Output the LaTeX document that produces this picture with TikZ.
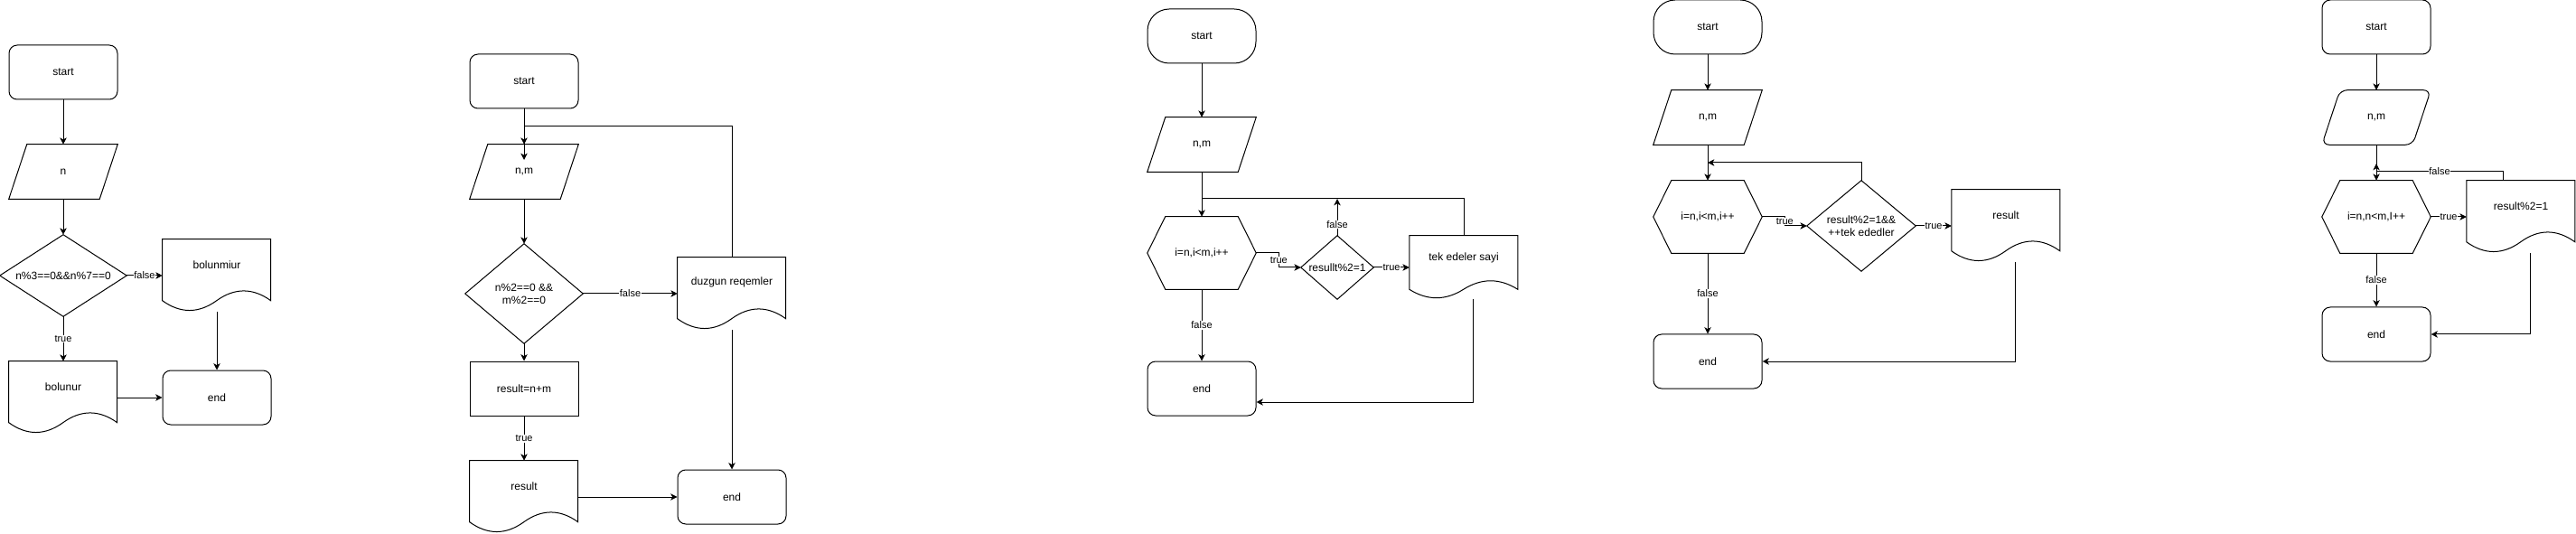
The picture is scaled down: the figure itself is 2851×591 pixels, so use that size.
\documentclass[tikz,border=0pt]{standalone}
\usepackage{fontspec}
\setmainfont{Liberation Sans}
\usetikzlibrary{arrows.meta,calc}
\newcommand\nodefnt{\fontsize{9pt}{10.5pt}\selectfont}
\newcommand\labfnt{\fontsize{8.25pt}{9pt}\selectfont}
\tikzset{
  shp/.style={line width=0.75pt, draw=black, line join=miter},
  boxbase/.style={rectangle, inner sep=0pt, minimum width=90pt, minimum height=45pt, align=center, font=\nodefnt},
  rrect/.style={boxbase, draw, line width=0.75pt, rounded corners=6.75pt},
  term/.style={boxbase, draw, line width=0.75pt, rounded corners=18pt},
  proc/.style={boxbase, draw, line width=0.75pt},
  para/.style={boxbase, append after command={\pgfextra{\draw[shp, #1] ([xshift=15pt]\tikzlastnode.north west) -- (\tikzlastnode.north east) -- ([xshift=-15pt]\tikzlastnode.south east) -- (\tikzlastnode.south west) -- cycle;}}},
  para/.default={},
  hexs/.style={boxbase, minimum height=60pt, append after command={\pgfextra{\draw[shp] (\tikzlastnode.west) -- ([xshift=15pt]\tikzlastnode.north west) -- ([xshift=-15pt]\tikzlastnode.north east) -- (\tikzlastnode.east) -- ([xshift=-15pt]\tikzlastnode.south east) -- ([xshift=15pt]\tikzlastnode.south west) -- cycle;}}},
  dia/.style 2 args={boxbase, minimum width=#1*0.75pt, minimum height=#2*0.75pt, append after command={\pgfextra{\draw[shp] (\tikzlastnode.north) -- (\tikzlastnode.east) -- (\tikzlastnode.south) -- (\tikzlastnode.west) -- cycle;}}},
  doc/.style={boxbase, minimum height=#1*0.75pt, append after command={\pgfextra{\draw[shp, shift={(\tikzlastnode.north west)}] (0,0) -- (120,0) -- (120,0.85*#1) .. controls (100,0.67*#1) and (80,0.67*#1) .. (60,0.85*#1) .. controls (40,1.03*#1) and (20,1.03*#1) .. (0,0.85*#1) -- cycle;}}},
  txt/.style={inner sep=0pt, font=\nodefnt, align=center},
  plain/.style={line width=0.75pt},
  arr/.style={line width=0.75pt, -{Stealth[length=5.5pt,width=5.5pt,inset=1.5pt]}},
  lab/.style={fill=white, inner sep=0.6pt, font=\labfnt},
}
\begin{document}
\begin{tikzpicture}[x=0.75pt, y=-0.75pt]
\useasboundingbox (0,0) rectangle (2851,591);

% ---------- chart 1 ----------
\node[rrect] (s1) at (70,80) {start};
\node[para] (n1) at (70,190) {n};
\node[dia={140}{90}] (c1) at (70,305) {n\%3==0\&\&n\%7==0};
\node[doc=80] (d1a) at (240,305) {};
\node[txt] (d1at) at ([yshift=-21pt]d1a.north) {bolunmiur};
\node[doc=80] (d1b) at (70,440) {};
\node[txt] (d1bt) at ([yshift=-21pt]d1b.north) {bolunur};
\node[rrect] (e1) at (240,440) {end};
\draw[arr] (s1.south) -- (n1.north);
\draw[arr] (n1.south) -- (c1.north);
\draw[arr] (c1.east) -- node[lab]{false} (d1a.west);
\draw[arr] (c1.south) -- node[lab]{true} (d1b.north);
\draw[arr] (d1a.south) -- (e1.north);
\draw[arr] (d1b.east) -- (e1.west);

% ---------- chart 2 ----------
\node[rrect] (s2) at (580,90) {start};
\node[para] (n2) at (580,190) {n,m};
\node[dia={130}{110}] (c2) at (580,325) {n\%2==0 \&\&\\m\%2==0};
\node[doc=80] (d2) at (810,325) {};
\node[txt] (d2t) at ([yshift=-21pt]d2.north) {duzgun reqemler};
\node[proc] (r2) at (580,430) {result=n+m};
\node[doc=80] (d2b) at (580,550) {};
\node[txt] (d2bt) at ([yshift=-21pt]d2b.north) {result};
\node[rrect] (e2) at (810,550) {end};
\coordinate (j2) at (580,140);
\coordinate (j2t) at (580,177);
\draw[arr] (s2.south) -- (n2.north);
\draw[arr] (d2.north) |- (j2) -- (j2t);
\draw[arr] (n2.south) -- (c2.north);
\draw[arr] (c2.east) -- node[lab]{false} (d2.west);
\draw[arr] (c2.south) -- (r2.north);
\draw[arr] (r2.south) -- node[lab]{true} (d2b.north);
\draw[arr] (d2.south) -- (e2.north);
\draw[arr] (d2b.east) -- (e2.west);

% ---------- chart 3 ----------
\node[term] (s3) at (1330,40) {start};
\node[para] (n3) at (1330,160) {n,m};
\node[hexs] (h3) at (1330,280) {i=n,i<m,i++};
\node[dia={80}{70}] (c3) at (1480,296) {resullt\%2=1};
\node[doc=70] (d3) at (1620,296) {};
\node[txt] (d3t) at ([yshift=-18.4pt]d3.north) {tek edeler sayi};
\node[rrect] (e3) at (1330,430) {end};
\coordinate (j3) at (1330,220);
\draw[arr] (s3.south) -- (n3.north);
\draw[arr] (n3.south) -- (h3.north);
\draw[plain] (d3.north) |- (j3);
\draw[arr] (c3.north) -- node[lab,pos=0.3]{false} (c3.north |- j3);
\draw[arr] (h3.east) -- ++(25,0) |- node[lab,pos=0.25]{true} (c3.west);
\draw[arr] (c3.east) -- node[lab]{true} (d3.west);
\draw[arr] ([xshift=7.5pt]d3.south) |- ([yshift=-11.25pt]e3.east);
\draw[arr] (h3.south) -- node[lab]{false} (e3.north);

% ---------- chart 4 ----------
\node[term] (s4) at (1890,30) {start};
\node[para] (n4) at (1890,130) {n,m};
\node[hexs] (h4) at (1890,240) {i=n,i<m,i++};
\node[dia={120}{100}] (c4) at (2060,250) {result\%2=1\&\&\\++tek ededler};
\node[doc=80] (d4) at (2220,250) {};
\node[txt] (d4t) at ([yshift=-21pt]d4.north) {result};
\node[rrect] (e4) at (1890,400) {end};
\coordinate (j4) at (1890,180);
\draw[arr] (s4.south) -- (n4.north);
\draw[arr] (n4.south) -- (h4.north);
\draw[arr] (c4.north) |- (j4);
\draw[arr] (h4.east) -- ++(25,0) |- node[lab,pos=0.25]{true} (c4.west);
\draw[arr] (c4.east) -- node[lab]{true} (d4.west);
\draw[arr] ([xshift=7.5pt]d4.south) |- (e4.east);
\draw[arr] (h4.south) -- node[lab]{false} (e4.north);

% ---------- chart 5 ----------
\node[rrect] (s5) at (2630,30) {start};
\node[para={rounded corners=6pt}] (n5) at (2630,130) {n,m};
\node[hexs] (h5) at (2630,240) {i=n,n<m,I++};
\node[doc=80] (d5) at (2790,240) {};
\node[txt] (d5t) at ([yshift=-21pt]d5.north) {result\%2=1};
\node[rrect] (e5) at (2630,370) {end};
\coordinate (j5) at (2630,190);
\coordinate (j5t) at (2630,181);
\draw[arr] (s5.south) -- (n5.north);
\draw[arr] (n5.south) -- (h5.north);
\draw[arr] ([xshift=-15pt]d5.north) |- node[lab,pos=0.75]{false} (j5) -- (j5t);
\draw[arr] (h5.east) -- node[lab]{true} (d5.west);
\draw[arr] ([xshift=7.5pt]d5.south) |- (e5.east);
\draw[arr] (h5.south) -- node[lab]{false} (e5.north);
\end{tikzpicture}
\end{document}
